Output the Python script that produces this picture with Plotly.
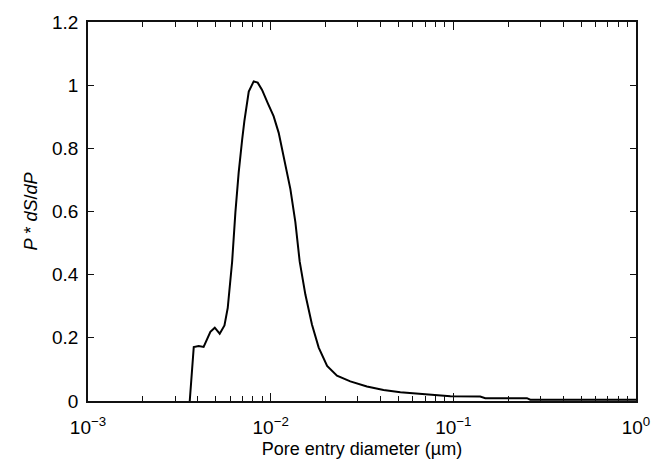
import plotly.graph_objects as go

# Pore entry diameter (µm) and P*dS/dP values
diameter_um = [
    0.003606, 0.003793, 0.004036, 0.004295, 0.004677, 0.004943, 0.005260,
    0.005585, 0.005821, 0.006152, 0.006412, 0.006683, 0.006982, 0.007178,
    0.007586, 0.008072, 0.008492, 0.008974, 0.009638, 0.010375, 0.011066,
    0.011776, 0.012823, 0.013646, 0.014421, 0.015488, 0.016827, 0.018323,
    0.020370, 0.023067, 0.027290, 0.033651, 0.041495, 0.051286, 0.063241,
    0.077983, 0.096383, 0.140281, 0.149624, 0.252930, 0.263633, 1.0,
]
p_ds_dp = [
    0.0, 0.171, 0.174, 0.171, 0.219, 0.232, 0.213,
    0.239, 0.295, 0.441, 0.598, 0.724, 0.828, 0.886,
    0.980, 1.012, 1.008, 0.985, 0.943, 0.902, 0.849,
    0.776, 0.671, 0.567, 0.441, 0.337, 0.242, 0.169,
    0.111, 0.080, 0.062, 0.046, 0.035, 0.028, 0.023,
    0.018, 0.015, 0.014, 0.009, 0.009, 0.004, 0.004,
]

x_major = [0.001, 0.01, 0.1, 1.0]
x_major_text = ["10<sup>−3</sup>", "10<sup>−2</sup>", "10<sup>−1</sup>", "10<sup>0</sup>"]
x_minor = [k * d for d in [0.001, 0.01, 0.1] for k in range(2, 10)]
y_ticks = [0, 0.2, 0.4, 0.6, 0.8, 1.0, 1.2]
y_tick_text = ["0", "0.2", "0.4", "0.6", "0.8", "1", "1.2"]

axis_color = "#111111"

fig = go.Figure()
# invisible trace so the minor-tick overlay axis is drawn
fig.add_trace(go.Scatter(
    x=diameter_um, y=p_ds_dp, mode="lines", xaxis="x2",
    line=dict(color="rgba(0,0,0,0)", width=0), hoverinfo="skip", showlegend=False,
))
fig.add_trace(go.Scatter(
    x=diameter_um, y=p_ds_dp, mode="lines",
    line=dict(color="black", width=2), showlegend=False,
))

fig.update_layout(
    width=670, height=469,
    margin=dict(l=88, r=34, t=18, b=68),
    paper_bgcolor="white", plot_bgcolor="white",
    font=dict(family="Liberation Sans, Arial, sans-serif", size=18, color="black"),
    xaxis=dict(
        type="log", range=[-3, 0],
        tickvals=x_major, ticktext=x_major_text,
        ticks="inside", ticklen=8, tickcolor=axis_color, tickwidth=1.2,
        showline=True, linecolor=axis_color, linewidth=1.5, mirror="ticks",
        showgrid=False, zeroline=False,
        ticklabelstandoff=8,
        title=dict(text="Pore entry diameter (µm)", standoff=6, font=dict(size=18)),
        tickfont=dict(size=19),
    ),
    xaxis2=dict(
        type="log", range=[-3, 0], overlaying="x", anchor="y", side="bottom",
        tickvals=x_minor, showticklabels=False,
        ticks="inside", ticklen=5, tickcolor=axis_color, tickwidth=1.2,
        showline=True, linecolor=axis_color, linewidth=1.5, mirror="ticks",
        showgrid=False, zeroline=False,
    ),
    yaxis=dict(
        range=[0, 1.2],
        tickvals=y_ticks, ticktext=y_tick_text,
        ticks="inside", ticklen=6, tickcolor=axis_color, tickwidth=1.2,
        showline=True, linecolor=axis_color, linewidth=1.5, mirror="ticks",
        showgrid=False, zeroline=False,
        ticklabelstandoff=4,
        title=dict(text="<i>P</i> * <i>dS</i>/<i>dP</i>", standoff=10, font=dict(size=18)),
        tickfont=dict(size=19),
    ),
)

fig.write_html("out.html")
